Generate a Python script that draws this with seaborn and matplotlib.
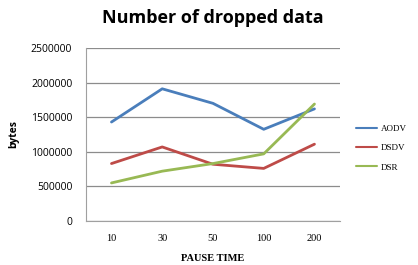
import numpy as np
import pandas as pd
import matplotlib
matplotlib.use("Agg")
import matplotlib.pyplot as plt
import seaborn as sns

sns.set_style("white")
plt.rcParams["text.color"] = "black"
plt.rcParams["axes.labelcolor"] = "black"
plt.rcParams["xtick.color"] = "black"
plt.rcParams["ytick.color"] = "black"

pause_time = ["10", "30", "50", "100", "200"]
aodv = [1430000, 1910000, 1700000, 1325000, 1620000]
dsdv = [830000, 1070000, 820000, 760000, 1110000]
dsr = [550000, 720000, 830000, 970000, 1690000]

df = pd.DataFrame({"pause": pause_time, "AODV": aodv, "DSDV": dsdv, "DSR": dsr})
df = df.melt(id_vars="pause", var_name="protocol", value_name="bytes")

colors = {"AODV": "#4A7EBB", "DSDV": "#BE4B48", "DSR": "#98B954"}

fig = plt.figure(figsize=(4.18, 2.65), dpi=100)
ax = fig.add_axes([0.206, 0.166, 0.607, 0.653])

sns.lineplot(data=df, x="pause", y="bytes", hue="protocol", palette=colors,
             linewidth=2, sort=False, ax=ax)

ax.set_ylim(0, 2500000)
ax.set_xlim(-0.5, 4.5)
ax.set_yticks(np.arange(0, 2500001, 500000))
ax.yaxis.set_major_formatter(matplotlib.ticker.FuncFormatter(lambda v, p: f"{int(v)}"))
ax.grid(axis="y", color="#8c8c8c", linewidth=0.9)
ax.set_axisbelow(True)
for s in ["top", "right"]:
    ax.spines[s].set_visible(False)
ax.spines["left"].set_color("#a0a0a0")
ax.spines["bottom"].set_color("#a0a0a0")
ax.tick_params(axis="both", length=0)
ax.tick_params(axis="y", labelsize=7.5, pad=10)
for t in ax.get_yticklabels():
    t.set_family("Open Sans")
ax.tick_params(axis="x", labelsize=7.5, pad=9)
for t in ax.get_xticklabels():
    t.set_family("Liberation Serif")

ax.set_xlabel("PAUSE TIME", fontsize=7.5, fontweight="bold", family="Liberation Serif", labelpad=8)
ax.set_ylabel("bytes", fontsize=7.5, fontweight="bold", family="Open Sans", labelpad=8)
fig.suptitle("Number of dropped data", fontsize=13, fontweight="bold", family="Open Sans",
             x=0.51, y=0.965)

leg = ax.legend(loc="center left", bbox_to_anchor=(1.03, 0.42), frameon=False,
                handlelength=2.4, handletextpad=0.4, labelspacing=1.2,
                prop={"family": "Liberation Serif", "size": 6.5})
for line in leg.get_lines():
    line.set_linewidth(1.5)

fig.savefig("out.png", dpi=100)
